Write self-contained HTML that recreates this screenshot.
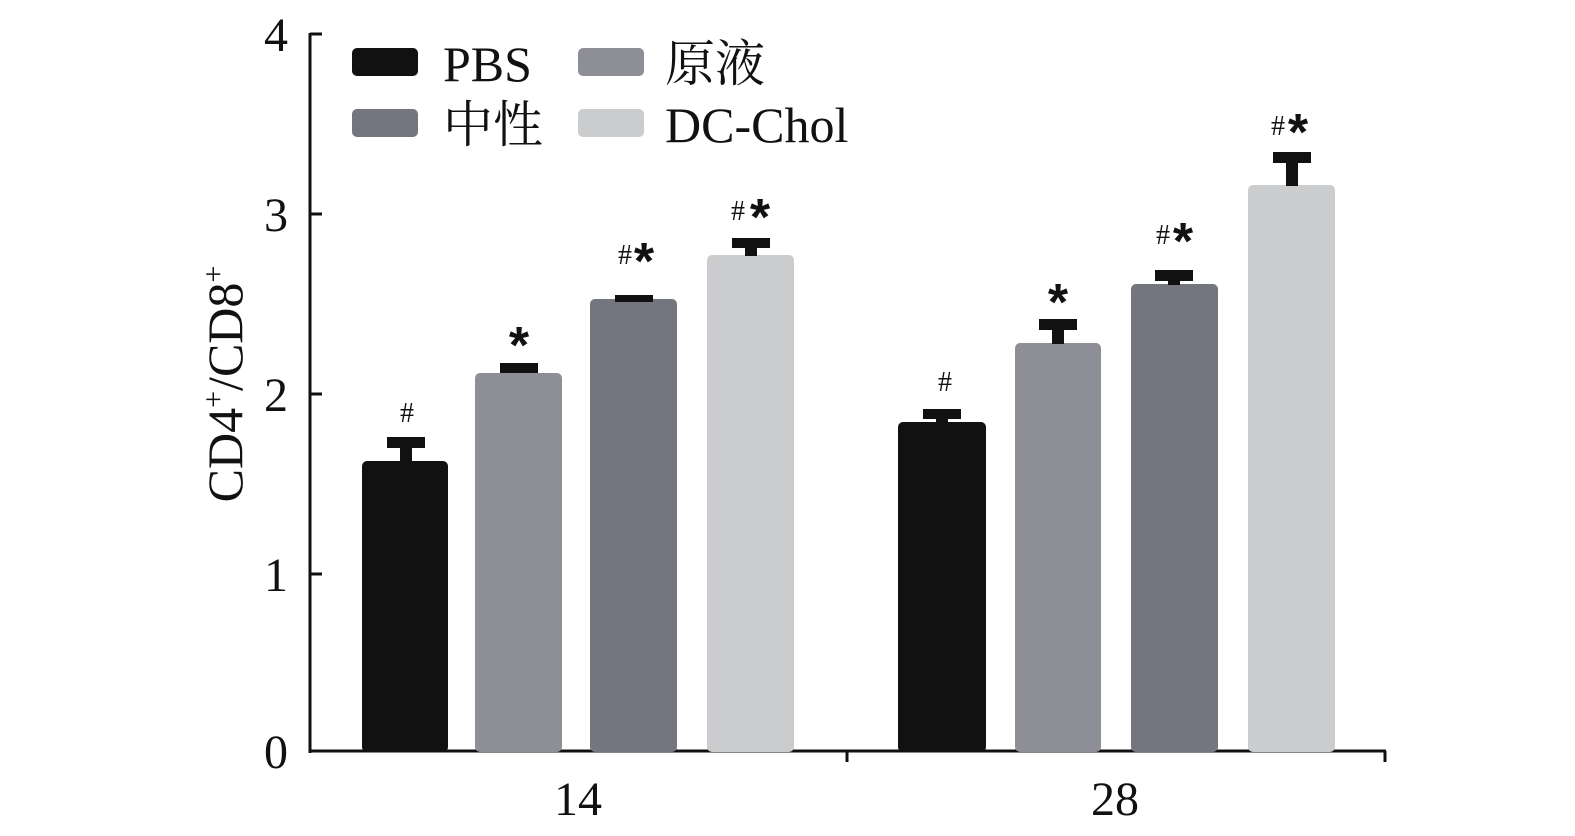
<!DOCTYPE html>
<html><head><meta charset="utf-8"><style>
html,body{margin:0;padding:0;background:#fff;}
svg{display:block;}
text{font-family:"Liberation Serif","Noto Serif CJK SC",serif;fill:#111;}
.s{font-family:"Liberation Sans",sans-serif;}
</style></head><body>
<svg width="1575" height="836" viewBox="0 0 1575 836" xmlns="http://www.w3.org/2000/svg">
<g stroke="#111" stroke-width="3" fill="none">
<line x1="310" y1="33" x2="310" y2="753"/>
<line x1="309" y1="751" x2="1386" y2="751"/>
<line x1="310" y1="34" x2="322" y2="34"/>
<line x1="310" y1="214" x2="322" y2="214"/>
<line x1="310" y1="394" x2="322" y2="394"/>
<line x1="310" y1="574" x2="322" y2="574"/>
<line x1="847" y1="751" x2="847" y2="762"/>
<line x1="1385" y1="751" x2="1385" y2="762"/>
</g>
<g font-size="48" text-anchor="end">
<text x="288" y="51">4</text>
<text x="288" y="231">3</text>
<text x="288" y="411">2</text>
<text x="288" y="591">1</text>
<text x="288" y="768">0</text>
</g>
<g font-size="48" text-anchor="middle">
<text x="578" y="815">14</text>
<text x="1115" y="815">28</text>
</g>
<text transform="translate(242,384) rotate(-90)" font-size="50" text-anchor="middle">CD4<tspan font-size="30" dy="-19">+</tspan><tspan dy="19">/CD8</tspan><tspan font-size="30" dy="-19">+</tspan></text>
<rect x="352" y="48" width="66" height="28" rx="5" fill="#111"/>
<rect x="578" y="48" width="66" height="28" rx="5" fill="#8e8f96"/>
<rect x="352" y="109" width="66" height="28" rx="5" fill="#73767e"/>
<rect x="578" y="109" width="66" height="28" rx="5" fill="#cbcccd"/>
<g font-size="50">
<text x="443" y="81">PBS</text>
<text x="665" y="81">原液</text>
<text x="443" y="142">中性</text>
<text x="665" y="142">DC-Chol</text>
</g>
<g>
<rect x="362" y="461" width="86" height="291" rx="5" fill="#111"/>
<rect x="475" y="373" width="87" height="379" rx="5" fill="#8e8f96"/>
<rect x="590" y="299" width="87" height="453" rx="5" fill="#73767e"/>
<rect x="707" y="255" width="87" height="497" rx="5" fill="#cbcccd"/>
<rect x="898" y="422" width="88" height="330" rx="5" fill="#111"/>
<rect x="1015" y="343" width="86" height="409" rx="5" fill="#8e8f96"/>
<rect x="1131" y="284" width="87" height="468" rx="5" fill="#73767e"/>
<rect x="1248" y="185" width="87" height="567" rx="5" fill="#cbcccd"/>
</g>
<g fill="#111">
<rect x="387" y="437" width="38" height="11"/><rect x="400" y="446" width="12" height="16"/>
<rect x="500" y="363" width="38" height="10"/>
<rect x="615" y="295" width="38" height="7"/>
<rect x="732" y="238" width="38" height="10"/><rect x="745" y="246" width="12" height="10"/>
<rect x="923" y="409" width="38" height="10"/><rect x="936" y="417" width="12" height="6"/>
<rect x="1039" y="319" width="38" height="11"/><rect x="1052" y="328" width="12" height="16"/>
<rect x="1155" y="270" width="38" height="11"/><rect x="1168" y="279" width="12" height="6"/>
<rect x="1273" y="152" width="38" height="11"/><rect x="1286" y="161" width="12" height="25"/>
</g>
<g font-size="28" text-anchor="middle">
<text x="407" y="422">#</text>
<text x="945" y="391">#</text>
<text x="625" y="264">#</text>
<text x="738" y="220">#</text>
<text x="1163" y="244">#</text>
<text x="1278" y="135">#</text>
</g>
<g font-size="52" font-weight="bold" text-anchor="middle" class="s">
<text class="s" x="519" y="363">*</text>
<text class="s" x="1058" y="320">*</text>
<text class="s" x="644" y="279">*</text>
<text class="s" x="760" y="235">*</text>
<text class="s" x="1183" y="259">*</text>
<text class="s" x="1298" y="150">*</text>
</g>
</svg>
</body></html>
